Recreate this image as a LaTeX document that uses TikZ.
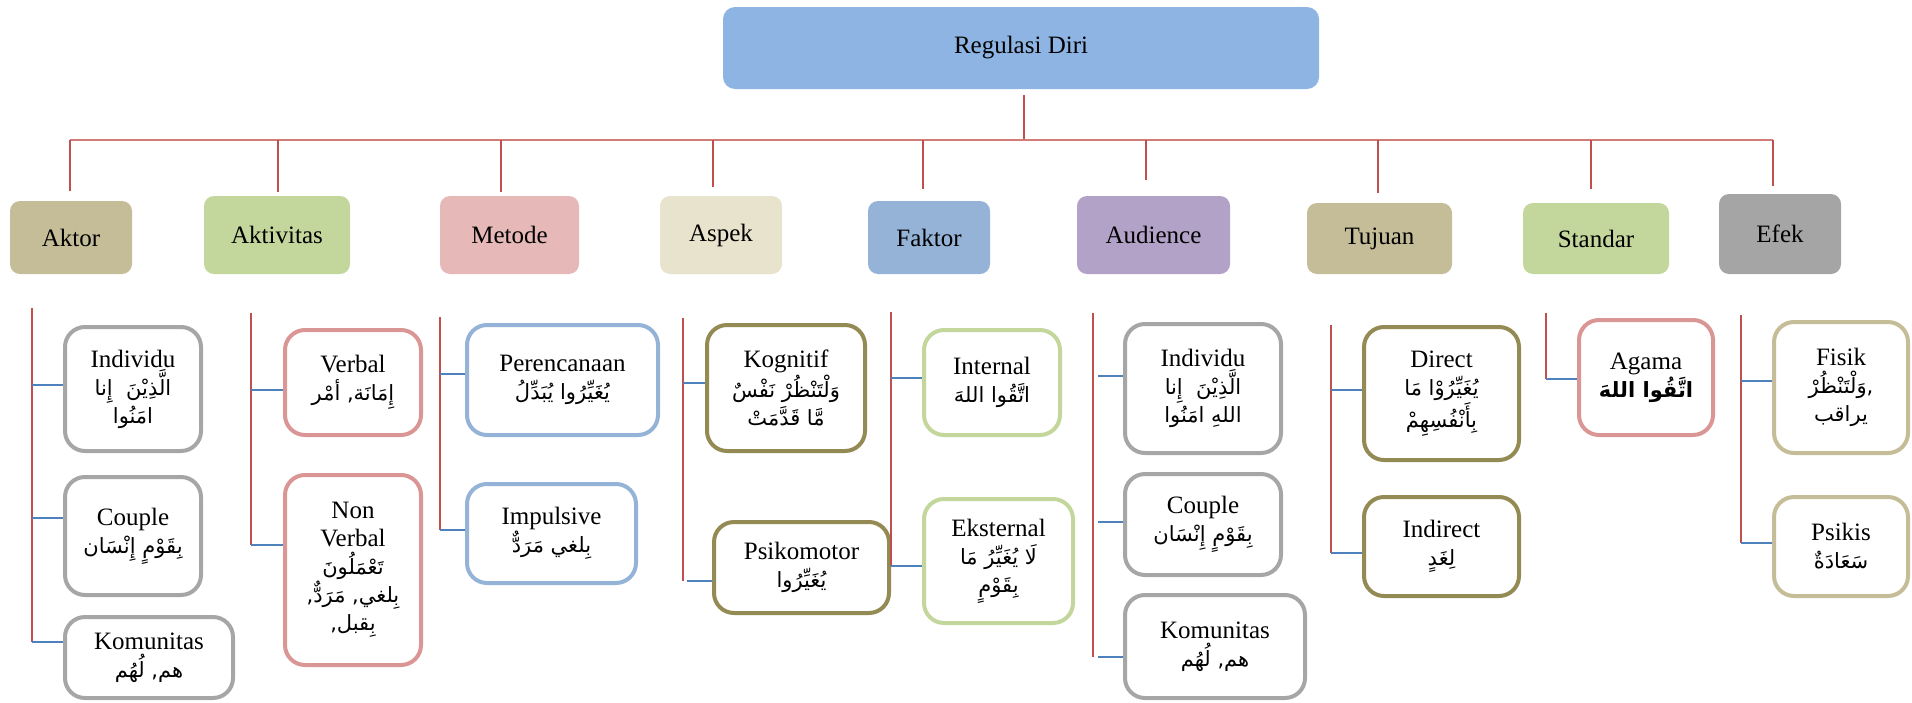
\documentclass[tikz,border=0pt]{standalone}
\usepackage{fontspec}
\setmainfont{Liberation Serif}
\newfontfamily\arabicfont[Script=Arabic]{DejaVu Sans}
\TeXXeTstate=1
\newcommand{\arx}[1]{{\arabicfont\fontsize{10.5}{14}\selectfont #1}}
\definecolor{rootc}{HTML}{8EB4E3}
\definecolor{tanc}{HTML}{C4BD97}
\definecolor{greenc}{HTML}{C3D69B}
\definecolor{pinkc}{HTML}{E6B9B8}
\definecolor{beigec}{HTML}{E8E3CC}
\definecolor{bluec}{HTML}{95B3D7}
\definecolor{purplec}{HTML}{B3A2C7}
\definecolor{grayc}{HTML}{A5A5A5}
\definecolor{lgray}{HTML}{A6A6A6}
\definecolor{lpink}{HTML}{D99694}
\definecolor{lblue}{HTML}{95B3D7}
\definecolor{lolive}{HTML}{948A54}
\definecolor{lgreen}{HTML}{C3D69B}
\definecolor{ltan}{HTML}{C4BD97}
\definecolor{redln}{HTML}{C0504D}
\definecolor{blueln}{HTML}{4F81BD}
\tikzset{
  rootbox/.style={rounded corners=6pt, fill=rootc, draw=none, inner sep=0pt,
    minimum width=298pt, minimum height=41pt},
  catbox/.style={rounded corners=5pt, draw=none, inner sep=0pt},
  csz/.style 2 args={minimum width={#1*0.5pt}, minimum height={#2*0.5pt}},
  leafbox/.style={rounded corners=10pt, line width=2pt, fill=white, align=center, inner sep=0pt},
  lsz/.style 2 args={minimum width={(#1-4)*0.5pt}, minimum height={(#2-4)*0.5pt}},
  redline/.style={draw=redln, line width=0.75pt},
  barline/.style={draw=redln!75, line width=1.1pt},
  blueline/.style={draw=blueln, line width=0.75pt},
}
\begin{document}
\begin{tikzpicture}[x=0.5pt, y=-0.5pt, font=\fontsize{12.5}{14}\selectfont]
\useasboundingbox (0,0) rectangle (1912,702);

% root
\node[rootbox] (root) at (1021,48) {Regulasi Diri};

% categories
\node[catbox, fill=tanc,    csz={122}{73}] (aktor)  at (71,237.5)   {Aktor};
\node[catbox, fill=greenc,  csz={146}{78}] (aktiv)  at (277,235)    {Aktivitas};
\node[catbox, fill=pinkc,   csz={139}{78}] (metode) at (509.5,235)  {Metode};
\node[catbox, fill=beigec,  csz={122}{78}] (aspek)  at (721,235)    {Aspek};
\node[catbox, fill=bluec,   csz={122}{73}] (faktor) at (929,237.5)  {Faktor};
\node[catbox, fill=purplec, csz={153}{78}] (aud)    at (1153.5,235) {Audience};
\node[catbox, fill=tanc,    csz={145}{71}] (tujuan) at (1379.5,238.5) {Tujuan};
\node[catbox, fill=greenc,  csz={146}{71}] (standar) at (1596,238.5) {Standar};
\node[catbox, fill=grayc,   csz={122}{80}] (efek)   at (1780,234)   {Efek};

% bar and drops
\coordinate (rb) at (1024,140);
\coordinate (b1) at (70,140);
\coordinate (b2) at (278,140);
\coordinate (b3) at (501,140);
\coordinate (b4) at (713,140);
\coordinate (b5) at (923,140);
\coordinate (b6) at (1146,140);
\coordinate (b7) at (1378,140);
\coordinate (b8) at (1591,140);
\coordinate (b9) at (1773,140);
\draw[redline, shorten <=3pt] (rb |- root.south) -- (rb);
\draw[barline] (b1) -- (b9);
\draw[redline, shorten >=5pt] (b1) -- (b1 |- aktor.north);
\draw[redline, shorten >=2pt] (b2) -- (b2 |- aktiv.north);
\draw[redline, shorten >=2pt] (b3) -- (b3 |- metode.north);
\draw[redline, shorten >=4.5pt] (b4) -- (b4 |- aspek.north);
\draw[redline, shorten >=6pt] (b5) -- (b5 |- faktor.north);
\draw[redline, shorten >=8pt] (b6) -- (b6 |- aud.north);
\draw[redline, shorten >=5pt] (b7) -- (b7 |- tujuan.north);
\draw[redline, shorten >=7pt] (b8) -- (b8 |- standar.north);
\draw[redline, shorten >=4pt] (b9) -- (b9 |- efek.north);

% column 1: Aktor
\node[leafbox, draw=lgray, lsz={140}{128}] (ind1) at (133,389)
  {Individu\\\arx{\beginR الَّذِيْنَ \ إِنا\endR}\\\arx{\beginR امَنُوا\endR}};
\node[leafbox, draw=lgray, lsz={140}{122}] (cou1) at (133,536)
  {Couple\\\arx{\beginR بِقَوْمٍ إِنْسَان\endR}};
\node[leafbox, draw=lgray, lsz={172}{85}] (kom1) at (149,657.5)
  {Komunitas\\\arx{\beginR هم, لُهُم\endR}};
\coordinate (t1) at (32,308);
\coordinate (c11) at (32,385);
\coordinate (c12) at (32,518);
\coordinate (c13) at (32,642);
\draw[redline] (t1) -- (c13);
\draw[blueline] (c11) -- (c11 -| ind1.west);
\draw[blueline] (c12) -- (c12 -| cou1.west);
\draw[blueline] (c13) -- (c13 -| kom1.west);

% column 2: Aktivitas
\node[leafbox, draw=lpink, lsz={140}{109}] (verb) at (353,382.5)
  {Verbal\\\arx{\beginR إِمَانَة, أمْر\endR}};
\node[leafbox, draw=lpink, lsz={140}{194}] (nonv) at (353,570)
  {Non\\Verbal\\\arx{\beginR تَعْمَلُونَ\endR}\\\arx{\beginR بِلغي, مَرَدٌّ,\endR}\\\arx{\beginR بِقبل,\endR}};
\coordinate (t2) at (251,313);
\coordinate (c21) at (251,390);
\coordinate (c22) at (251,545);
\draw[redline] (t2) -- (c22);
\draw[blueline] (c21) -- (c21 -| verb.west);
\draw[blueline] (c22) -- (c22 -| nonv.west);

% column 3: Metode
\node[leafbox, draw=lblue, lsz={195}{114}] (pere) at (562.5,380)
  {Perencanaan\\\arx{\beginR يُغَيِّرُوا يُبَدِّلُ\endR}};
\node[leafbox, draw=lblue, lsz={173}{103}] (impu) at (551.5,533.5)
  {Impulsive\\\arx{\beginR بِلغي مَرَدٌّ\endR}};
\coordinate (t3) at (440,317);
\coordinate (c31) at (440,374);
\coordinate (c32) at (440,530);
\draw[redline] (t3) -- (c32);
\draw[blueline] (c31) -- (c31 -| pere.west);
\draw[blueline] (c32) -- (c32 -| impu.west);

% column 4: Aspek
\node[leafbox, draw=lolive, lsz={162}{130}] (kogn) at (786,388)
  {Kognitif\\\arx{\beginR وَلْتَنْظُرْ نَفْسٌ\endR}\\\arx{\beginR مَّا قَدَّمَتْ\endR}};
\node[leafbox, draw=lolive, lsz={179}{95}] (psik) at (801.5,567.5)
  {Psikomotor\\\arx{\beginR يُغَيِّرُوا\endR}};
\coordinate (t4) at (683,318);
\coordinate (c41) at (683,383);
\coordinate (c42) at (683,581);
\coordinate (c42s) at (687,581);
\draw[redline] (t4) -- (c42);
\draw[blueline] (c41) -- (c41 -| kogn.west);
\draw[blueline] (c42s) -- (c42s -| psik.west);

% column 5: Faktor
\node[leafbox, draw=lgreen, lsz={140}{109}] (inte) at (992,382.5)
  {Internal\\\arx{\beginR اتَّقُوا اللهَ\endR}};
\node[leafbox, draw=lgreen, lsz={153}{128}] (ekst) at (998.5,561)
  {Eksternal\\\arx{\beginR لَا يُغَيِّرُ مَا\endR}\\\arx{\beginR بِقَوْمٍ\endR}};
\coordinate (t5) at (891,312);
\coordinate (c51) at (891,378);
\coordinate (c52) at (891,566);
\draw[redline] (t5) -- (c52);
\draw[blueline] (c51) -- (c51 -| inte.west);
\draw[blueline] (c52) -- (c52 -| ekst.west);

% column 6: Audience
\node[leafbox, draw=lgray, lsz={160}{133}] (ind6) at (1203,388.5)
  {Individu\\\arx{\beginR الَّذِيْنَ \ إِنا\endR}\\\arx{\beginR اللهِ امَنُوا\endR}};
\node[leafbox, draw=lgray, lsz={160}{105}] (cou6) at (1203,524.5)
  {Couple\\\arx{\beginR بِقَوْمٍ إِنْسَان\endR}};
\node[leafbox, draw=lgray, lsz={184}{107}] (kom6) at (1215,646.5)
  {Komunitas\\\arx{\beginR هم, لُهُم\endR}};
\coordinate (t6) at (1093,313);
\coordinate (c61) at (1098,376);
\coordinate (c62) at (1098,522);
\coordinate (c63) at (1098,657);
\coordinate (c63t) at (1093,657);
\draw[redline] (t6) -- (c63t);
\draw[blueline] (c61) -- (c61 -| ind6.west);
\draw[blueline] (c62) -- (c62 -| cou6.west);
\draw[blueline] (c63) -- (c63 -| kom6.west);

% column 7: Tujuan
\node[leafbox, draw=lolive, lsz={159}{137}] (dire) at (1441.5,393.5)
  {Direct\\\arx{\beginR يُغَيِّرُوْا مَا\endR}\\\arx{\beginR بِأَنْفُسِهِمْ\endR}};
\node[leafbox, draw=lolive, lsz={159}{103}] (indi) at (1441.5,546.5)
  {Indirect\\\arx{\beginR لِغَدٍ\endR}};
\coordinate (t7) at (1331,325);
\coordinate (c71) at (1331,390);
\coordinate (c72) at (1331,553);
\draw[redline] (t7) -- (c72);
\draw[blueline] (c71) -- (c71 -| dire.west);
\draw[blueline] (c72) -- (c72 -| indi.west);

% column 8: Standar
\node[leafbox, draw=lpink, lsz={138}{119}] (agam) at (1646,377.5)
  {Agama\\\arx{\bfseries\beginR اتَّقُوا اللهَ\endR}};
\coordinate (t8) at (1546,313);
\coordinate (c81) at (1546,379);
\draw[redline] (t8) -- (c81);
\draw[blueline] (c81) -- (c81 -| agam.west);

% column 9: Efek
\node[leafbox, draw=ltan, lsz={138}{135}] (fisi) at (1841,387.5)
  {Fisik\\\arx{\beginR ,وَلْتَنْظُرْ\endR}\\\arx{\beginR يراقب\endR}};
\node[leafbox, draw=ltan, lsz={138}{103}] (psis) at (1841,546.5)
  {Psikis\\\arx{\beginR سَعَادَةٌ\endR}};
\coordinate (t9) at (1741,315);
\coordinate (c91) at (1741,381);
\coordinate (c92) at (1741,543);
\draw[redline] (t9) -- (c92);
\draw[blueline] (c91) -- (c91 -| fisi.west);
\draw[blueline] (c92) -- (c92 -| psis.west);
\end{tikzpicture}
\end{document}
